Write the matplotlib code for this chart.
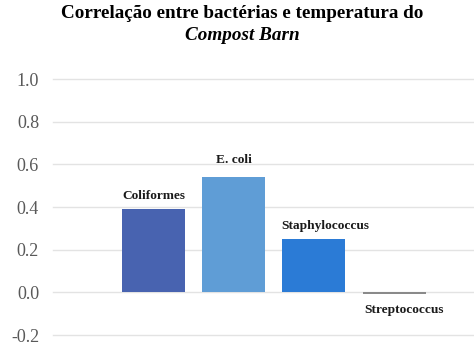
import matplotlib
matplotlib.use("Agg")
import matplotlib.pyplot as plt

categories = ["Coliformes", "E. coli", "Staphylococcus", "Streptococcus"]
values = [0.39, 0.54, 0.25, -0.01]
colors = ["#4863b0", "#5f9dd6", "#2b7bd6", "#8a8a8a"]
yticks = [-0.2, 0.0, 0.2, 0.4, 0.6, 0.8, 1.0]

W, H = 474, 346
fig = plt.figure(figsize=(W / 100, H / 100), dpi=100)
ax = fig.add_axes([53 / W, 11 / H, 1 - 53 / W, (335 - 79) / H])

x = list(range(len(categories)))
ax.bar(x, values, width=0.785, color=colors, zorder=3)
ax.set_ylim(-0.2, 1.0)
ax.set_xlim(-1.253, 3.996)
ax.set_yticks(yticks)
ax.set_yticklabels([f"{t:.1f}" for t in yticks], fontfamily="Liberation Serif",
                   fontsize=13, color="#595959")
ax.tick_params(axis="y", length=0, pad=10)
ax.set_xticks([])
for s in ax.spines.values():
    s.set_visible(False)
for t in yticks:
    ax.axhline(t, color="#e3e3e3", lw=1.0, zorder=1, clip_on=False)

# labels (offsets relative to bar end)
offsets = [(0, 0.061), (0, 0.08), (0.14, 0.061), (0.13, -0.075)]
for xi, v, lab, (dx, dy) in zip(x, values, categories, offsets):
    ax.text(xi + dx, v + dy, lab, ha="center", va="center", fontfamily="Liberation Serif",
            fontweight="bold", fontsize=9.6, color="#1a1a1a", zorder=4)

fig.text(242 / W, 1 - 14 / H, "Correlação entre bactérias e temperatura do", ha="center",
         va="center", fontfamily="Liberation Serif", fontweight="bold", fontsize=13.8)
fig.text(242 / W, 1 - 36 / H, "Compost Barn", ha="center", va="center",
         fontfamily="Liberation Serif", fontweight="bold", fontstyle="italic", fontsize=13.8)

fig.savefig("out.png", dpi=100)
